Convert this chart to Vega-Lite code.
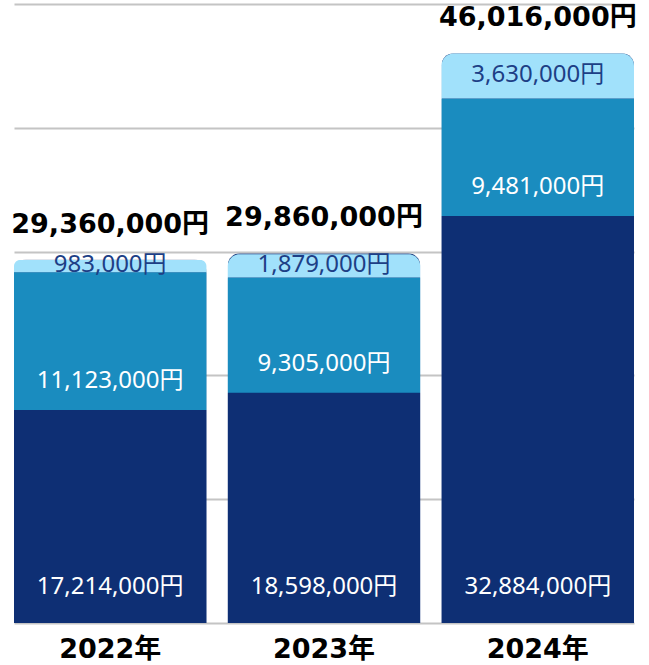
{
  "$schema": "https://vega.github.io/schema/vega-lite/v6.json",
  "width": 620,
  "height": 619,
  "autosize": {"type": "none"},
  "padding": {"left": 14, "top": 4, "right": 15, "bottom": 42},
  "config": {
    "view": {"stroke": null},
    "font": "Noto Sans, Noto Sans CJK JP",
    "axisY": {"labels": false, "ticks": false, "domain": false, "gridColor": "#c4c4c4", "gridWidth": 2, "tickCount": 5}
  },
  "datasets": {
    "segments": [
      {"year": "2022年", "part": "a", "order": 1, "value": 17214000},
      {"year": "2022年", "part": "b", "order": 2, "value": 11123000},
      {"year": "2022年", "part": "c", "order": 3, "value": 983000},
      {"year": "2023年", "part": "a", "order": 1, "value": 18598000},
      {"year": "2023年", "part": "b", "order": 2, "value": 9305000},
      {"year": "2023年", "part": "c", "order": 3, "value": 1879000},
      {"year": "2024年", "part": "a", "order": 1, "value": 32884000},
      {"year": "2024年", "part": "b", "order": 2, "value": 9481000},
      {"year": "2024年", "part": "c", "order": 3, "value": 3630000}
    ],
    "totals": [
      {"year": "2022年", "total": 29360000},
      {"year": "2023年", "total": 29860000},
      {"year": "2024年", "total": 46016000}
    ]
  },
  "encoding": {
    "x": {
      "field": "year", "type": "nominal",
      "scale": {"paddingInner": 0.1, "paddingOuter": 0},
      "axis": {"title": null, "labelAngle": 0, "domain": false, "ticks": false, "grid": false, "labelFont": "DejaVu Sans, Noto Sans CJK JP", "labelFontSize": 27, "labelFontWeight": "bold", "labelColor": "#000000", "labelPadding": 13}
    }
  },
  "layer": [
    {
      "data": {"name": "totals"},
      "mark": {"type": "bar", "color": "#0e2f74", "cornerRadiusTopLeft": 12, "cornerRadiusTopRight": 12},
      "encoding": {
        "y": {"field": "total", "type": "quantitative", "scale": {"domain": [0, 50000000]}, "axis": {"title": null}}
      }
    },
    {
      "data": {"name": "segments"},
      "transform": [
        {"stack": "value", "groupby": ["year"], "sort": [{"field": "order"}], "as": ["y0", "y1"]},
        {"calculate": "format(datum.value, ',') + '円'", "as": "label"},
        {"calculate": "(datum.y0 + datum.y1) / 2", "as": "mid"}
      ],
      "layer": [
        {
          "transform": [{"filter": "datum.order < 3"}],
          "mark": {"type": "bar"},
          "encoding": {
            "y": {"field": "y1", "type": "quantitative", "axis": {"title": null}},
            "y2": {"field": "y0"},
            "color": {"field": "part", "type": "nominal", "scale": {"domain": ["a", "b", "c"], "range": ["#0e2f74", "#1a8cbf", "#a1e1fb"]}, "legend": null}
          }
        },
        {
          "transform": [{"filter": "datum.order == 3"}],
          "mark": {"type": "bar", "cornerRadiusTopLeft": 12, "cornerRadiusTopRight": 12},
          "encoding": {
            "y": {"field": "y1", "type": "quantitative", "axis": {"title": null}},
            "y2": {"field": "y0"},
            "color": {"field": "part", "type": "nominal", "legend": null}
          }
        },
        {
          "transform": [{"filter": "datum.order == 1"}],
          "mark": {"type": "text", "color": "#ffffff", "fontSize": 24, "baseline": "middle", "dy": -36},
          "encoding": {
            "y": {"field": "y0", "type": "quantitative", "axis": {"title": null}},
            "text": {"field": "label"}
          }
        },
        {
          "transform": [{"filter": "datum.order == 2"}],
          "mark": {"type": "text", "color": "#ffffff", "fontSize": 24, "baseline": "middle", "dy": -29},
          "encoding": {
            "y": {"field": "y0", "type": "quantitative", "axis": {"title": null}},
            "text": {"field": "label"}
          }
        },
        {
          "transform": [{"filter": "datum.order == 3"}],
          "mark": {"type": "text", "color": "#1d3f86", "fontSize": 24, "baseline": "middle", "dy": -1},
          "encoding": {
            "y": {"field": "mid", "type": "quantitative", "axis": {"title": null}},
            "text": {"field": "label"}
          }
        }
      ]
    },
    {
      "data": {"name": "totals"},
      "transform": [{"calculate": "format(datum.total, ',') + '円'", "as": "label"}],
      "mark": {"type": "text", "color": "#000000", "font": "DejaVu Sans, Noto Sans CJK JP", "fontSize": 27, "fontWeight": "bold", "baseline": "middle", "dy": -35},
      "encoding": {
        "y": {"field": "total", "type": "quantitative", "axis": {"title": null}},
        "text": {"field": "label"}
      }
    }
  ]
}
